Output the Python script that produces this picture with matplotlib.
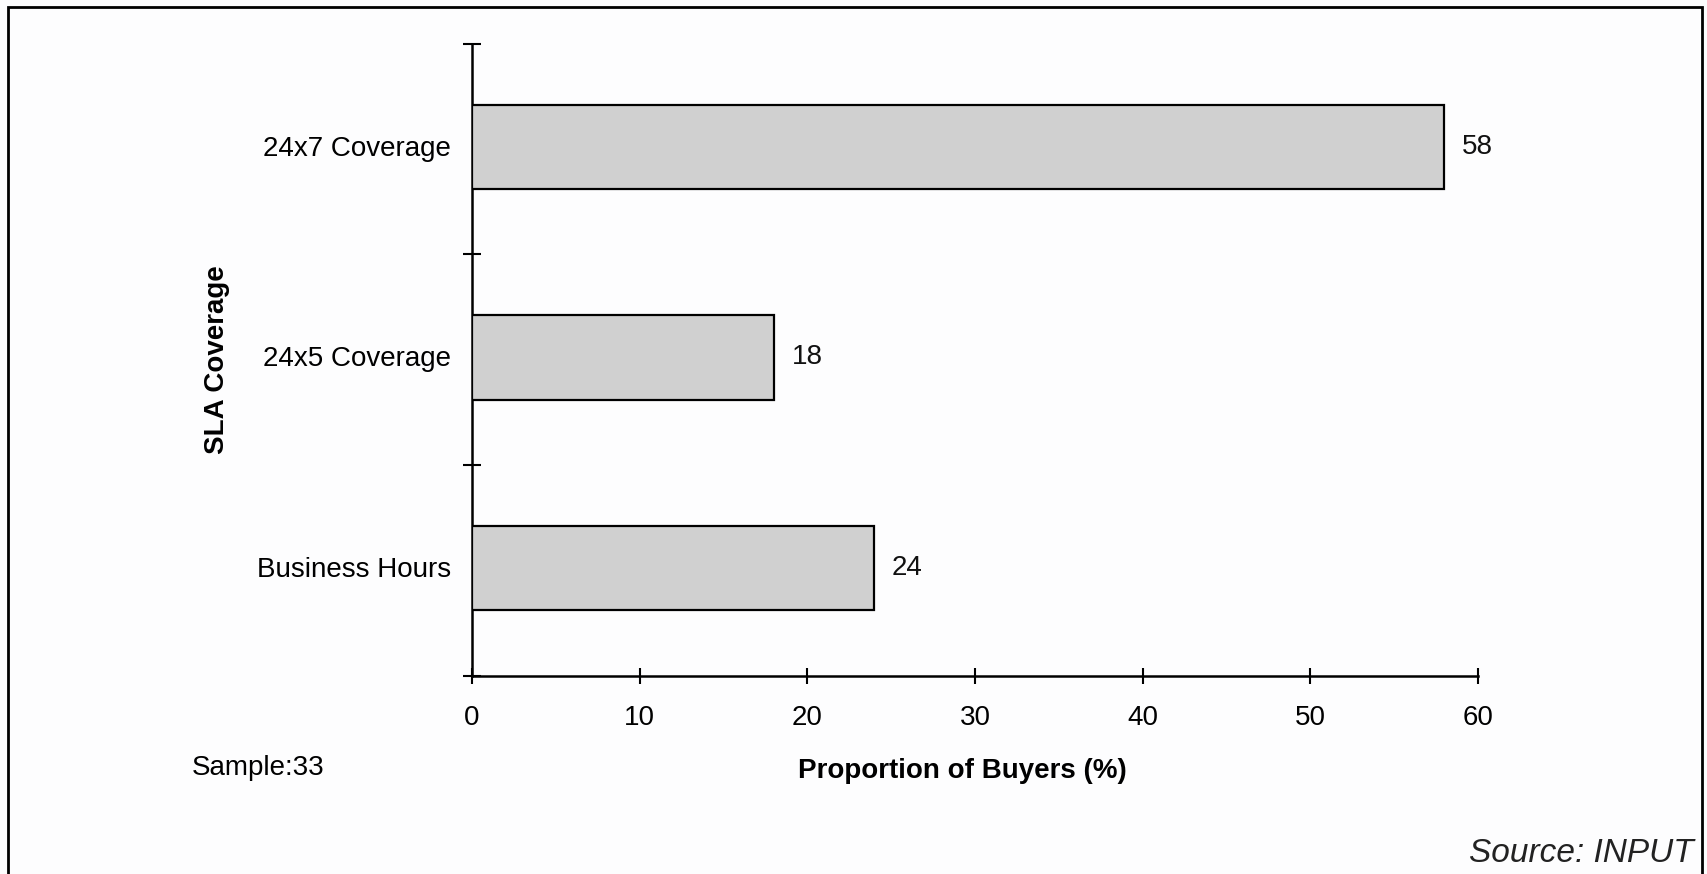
import matplotlib
matplotlib.use("Agg")
import matplotlib.pyplot as plt
from matplotlib.patches import Rectangle
import numpy as np

categories = ["Business Hours", "24x5 Coverage", "24x7 Coverage"]
values = [24, 18, 58]
x_ticks = [0, 10, 20, 30, 40, 50, 60]

plt.rcParams['font.family'] = ['Liberation Sans', 'DejaVu Sans']

W, H, DPI = 1708, 874, 100
fig = plt.figure(figsize=(W / DPI, H / DPI), dpi=DPI, facecolor='#fdfdfe')

# axes placement in pixels
x0, x1 = 472, 1478
y_top, y_bot = 43.6, 675.5
ax = fig.add_axes([x0 / W, 1 - y_bot / H, (x1 - x0) / W, (y_bot - y_top) / H])
ax.set_facecolor('none')

ypos = np.arange(len(categories))
ax.barh(ypos + 0.01, values, height=0.4, color='#d0d0d0', edgecolor='black', linewidth=1.6, zorder=3)
for y, v in zip(ypos, values):
    ax.text(v + 1.05, y + 0.01, f"{v}", va='center', ha='left', fontsize=20, color='#111111')

ax.set_xlim(0, 60)
ax.set_ylim(-0.5, len(categories) - 0.5)
ax.set_xticks(x_ticks)
ax.set_xticklabels([str(t) for t in x_ticks], fontsize=20)
ax.set_yticks(ypos + 0.015)
ax.set_yticklabels(categories, fontsize=20)
ax.set_yticks(np.arange(-0.5, len(categories), 1.0), minor=True)

ax.tick_params(axis='y', which='major', length=0, pad=15)
ax.tick_params(axis='y', which='minor', direction='inout', length=13, width=1.5)
ax.tick_params(axis='x', which='major', direction='inout', length=12, width=1.5, pad=15)

for s in ['top', 'right']:
    ax.spines[s].set_visible(False)
for s in ['left', 'bottom']:
    ax.spines[s].set_linewidth(1.8)

ax.set_xlabel("Proportion of Buyers (%)", fontsize=20, fontweight='bold')
ax.xaxis.set_label_coords(0.487, -(758 - y_bot) / (y_bot - y_top))
ax.set_ylabel("SLA Coverage", fontsize=20, fontweight='bold')
ax.yaxis.set_label_coords((230 - x0) / (x1 - x0), 0.5)

fig.text(192 / W, 1 - 768 / H, "Sample:33", fontsize=20, ha='left', va='center')
fig.text(1694 / W, 1 - 853 / H, "Source: INPUT", fontsize=24, style='italic',
         ha='right', va='center', color='#222222')

# outer frame
fig.patches.append(Rectangle((8 / W, -0.02), (1702 - 8) / W, 1 - 7 / H + 0.02,
                             transform=fig.transFigure, fill=False,
                             edgecolor='black', linewidth=2))

fig.savefig("out.png", dpi=DPI, facecolor=fig.get_facecolor())
